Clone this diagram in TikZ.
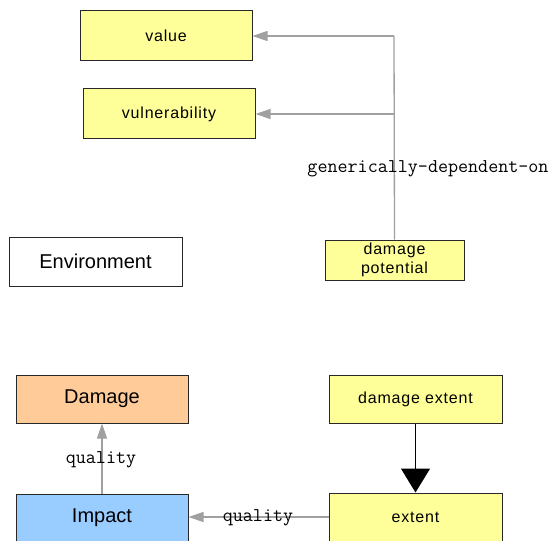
\documentclass[tikz,border=0pt]{standalone}
\usepackage{fontspec}
\setmainfont{Liberation Sans}
\newfontfamily\boxfont[LetterSpace=5]{Liberation Sans}
\usetikzlibrary{arrows.meta}
\definecolor{classyellow}{RGB}{255,255,153}
\definecolor{classorange}{RGB}{255,204,153}
\definecolor{classblue}{RGB}{153,204,255}
\definecolor{linkgray}{RGB}{160,160,160}
\definecolor{boxedge}{RGB}{40,40,40}
\tikzset{
  box/.style={draw=boxedge, line width=1pt, rectangle, inner sep=0pt, align=center},
  small/.style={font=\boxfont\fontsize{16}{19}\selectfont},
  large/.style={font=\fontsize{20}{24}\selectfont},
  relation/.style={draw=linkgray, line width=1.3pt},
  relarrow/.style={relation, -{Triangle[length=15pt,width=10pt]}},
  rellabel/.style={font=\ttfamily\fontsize{19.5}{22}\selectfont, inner sep=0pt},
  isa/.style={draw=black, line width=1.4pt, -{Triangle[length=24pt,width=29pt]}}
}
\begin{document}
\begin{tikzpicture}[x=1pt,y=-1pt]
  \useasboundingbox (0,0) rectangle (553,540);
  \clip (0,0) rectangle (553,540);

  % upper group: value, vulnerability, damage potential
  \node[box, small, fill=classyellow, minimum width=172pt, minimum height=50pt] (value) at (166,36) {value};
  \node[box, small, fill=classyellow, minimum width=172pt, minimum height=50pt] (vuln) at (169,114) {vulnerability};
  \node[box, small, fill=classyellow, minimum width=139pt, minimum height=40pt] (dpot) at (394.5,260) {damage\\potential};
  \node[box, large, fill=white, minimum width=173pt, minimum height=49pt] (env) at (95.5,261.5) {Environment};

  \coordinate (j1) at (394,36);
  \coordinate (j2) at (394,114);
  \draw[relation] (dpot.north) -- (j1);
  \draw[relarrow] (j1) -- (value.east);
  \draw[relarrow] (j2) -- (vuln.east);
  \node[rellabel] (gdo) at (428,169) {generically-dependent-on};

  % lower group: damage, impact, extents
  \node[box, large, fill=classorange, minimum width=172pt, minimum height=48pt] (damage) at (102,399) {Damage};
  \node[box, large, fill=classblue, minimum width=172pt, minimum height=48pt] (impact) at (102,518) {Impact};
  \node[box, small, fill=classyellow, minimum width=173pt, minimum height=48pt] (dext) at (415.5,399) {damage extent};
  \node[box, small, fill=classyellow, minimum width=173pt, minimum height=48pt] (ext) at (415.5,517) {extent};

  \draw[relarrow] (impact.north) -- (damage.south);
  \node[rellabel] (q1) at (101,460) {quality};
  \draw[relarrow] (ext.west) -- (ext.west -| impact.east);
  \node[rellabel] (q2) at (258,518) {quality};
  \draw[isa] (dext.south) -- (ext.north);
\end{tikzpicture}
\end{document}
